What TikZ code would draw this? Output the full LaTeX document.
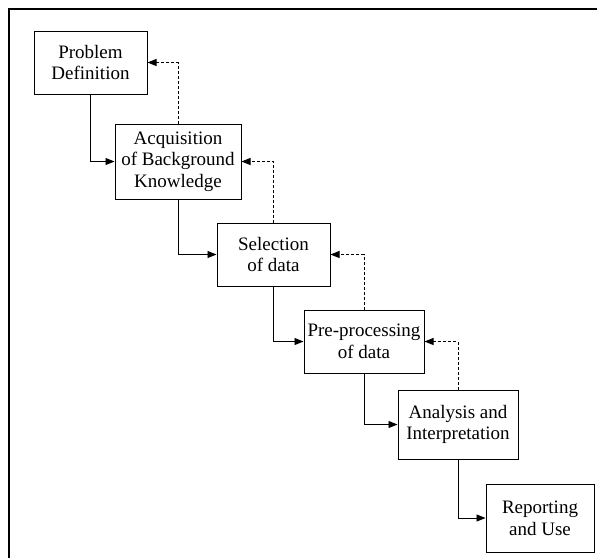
\documentclass[tikz,border=0pt]{standalone}
\usepackage{fontspec}
\setmainfont{Liberation Serif}
\usetikzlibrary{arrows.meta}
\begin{document}
\begin{tikzpicture}[x=1pt,y=-1pt,
  stage/.style={draw,line width=1pt,inner sep=0pt,align=center,
    font=\fontsize{19}{21.7}\selectfont},
  flow/.style={line width=0.9pt,-{Triangle[length=9pt,width=7pt]}},
  back/.style={line width=0.9pt,dash pattern=on 3pt off 2pt,-{Triangle[length=9pt,width=7pt]}}]
\useasboundingbox (0,0) rectangle (597,558);
\draw[line width=2.4pt] (9,558) -- (9,9) -- (597,9);
\node[stage,minimum width=113pt,minimum height=63pt] (b1) at (90.5,62.5) {Problem\\Definition};
\node[stage,minimum width=126pt,minimum height=75pt] (b2) at (178,161.5) {Acquisition\\of Background\\Knowledge};
\node[stage,minimum width=113pt,minimum height=63pt] (b3) at (273.5,254.5) {Selection\\of data};
\node[stage,minimum width=120pt,minimum height=63pt] (b4) at (364,341.5) {Pre-processing\\of data};
\node[stage,minimum width=120pt,minimum height=69pt] (b5) at (458,424.5) {Analysis and\\Interpretation};
\node[stage,minimum width=108pt,minimum height=68pt] (b6) at (540,518) {Reporting\\and Use};
\draw[flow] (b1.south) |- (b2.west);
\draw[flow] (b2.south) |- (b3.west);
\draw[flow] (b3.south) |- (b4.west);
\draw[flow] (b4.south) |- (b5.west);
\draw[flow] (b5.south) |- (b6.west);
\draw[back] (b2.north) |- (b1.east);
\draw[back] (b3.north) |- (b2.east);
\draw[back] (b4.north) |- (b3.east);
\draw[back] (b5.north) |- (b4.east);
\end{tikzpicture}
\end{document}
